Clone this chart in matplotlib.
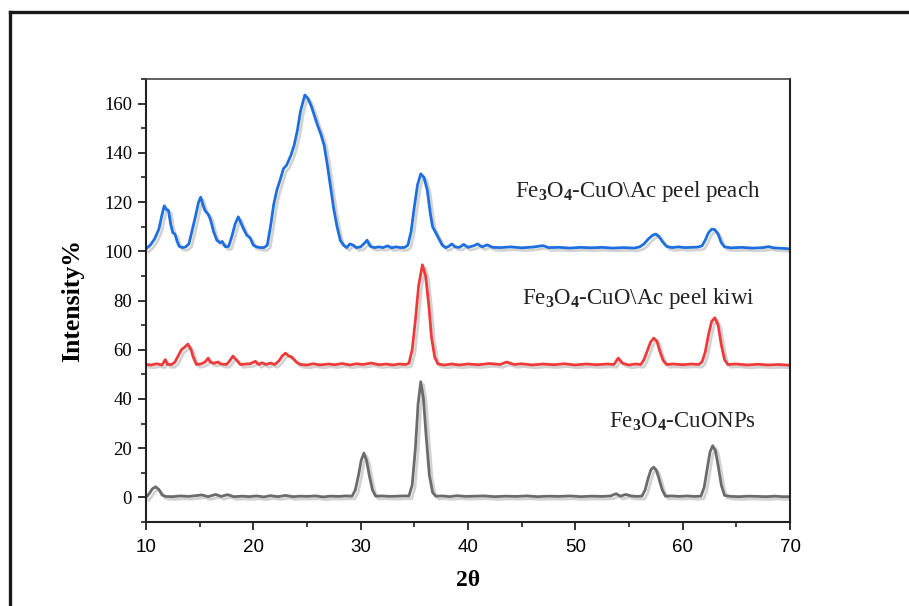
import matplotlib
matplotlib.use("Agg")
import matplotlib.pyplot as plt
import matplotlib.patheffects as pe
from matplotlib.lines import Line2D
from matplotlib.ticker import MultipleLocator

# Fe3O4-CuO\Ac peel peach (blue)
peach_x = [10.0, 10.4, 10.8, 11.2, 11.5, 11.7, 11.9, 12.1, 12.3, 12.5, 12.7, 12.9, 13.1, 13.4, 13.7,
           14.0, 14.3, 14.6, 14.9, 15.1, 15.3, 15.5, 15.8, 16.0, 16.3, 16.6, 16.9, 17.1, 17.4, 17.7,
           18.0, 18.3, 18.6, 18.9, 19.1, 19.4, 19.7, 20.0, 20.3, 20.7, 21.0, 21.3, 21.6, 21.9, 22.2,
           22.5, 22.8, 23.1, 23.5, 23.8, 24.1, 24.4, 24.8, 25.1, 25.4, 25.7, 26.0, 26.3, 26.6, 26.9,
           27.2, 27.5, 27.8, 28.1, 28.4, 28.7, 29.0, 29.3, 29.6, 30.0, 30.4, 30.6, 30.9, 31.3, 31.7,
           32.1, 32.5, 32.9, 33.3, 33.7, 34.1, 34.4, 34.7, 35.0, 35.3, 35.6, 35.9, 36.2, 36.5, 36.7,
           37.0, 37.3, 37.6, 37.9, 38.2, 38.5, 38.8, 39.2, 39.6, 40.0, 40.5, 40.9, 41.3, 41.8, 42.3,
           43.0, 44.0, 45.0, 46.0, 47.0, 47.5, 48.5, 49.5, 50.5, 51.5, 52.5, 53.5, 54.5, 55.5, 56.0,
           56.4, 56.8, 57.2, 57.5, 57.8, 58.1, 58.5, 59.0, 59.6, 60.2, 60.8, 61.4, 61.8, 62.1, 62.4,
           62.7, 63.0, 63.3, 63.6, 63.9, 64.5, 65.5, 66.5, 67.5, 68.0, 68.5, 69.3, 70.0]
peach_y = [101.0, 102.5, 105.0, 109.0, 115.0, 118.5, 117.0, 116.5, 111.0, 107.5, 107.0, 104.0, 102.0, 101.5, 101.8,
           103.0, 108.5, 114.0, 120.0, 122.0, 119.0, 116.5, 115.0, 113.0, 108.0, 104.5, 103.5, 104.0, 101.8, 102.0,
           106.0, 111.0, 114.0, 111.0, 109.0, 106.5, 105.5, 102.5, 101.8, 101.5, 101.5, 102.5, 110.0, 119.0, 125.0,
           129.0, 133.5, 135.0, 139.0, 143.0, 149.0, 157.0, 163.5, 162.0, 159.0, 155.0, 151.0, 147.5, 143.0, 135.0,
           126.0, 117.0, 110.0, 104.5, 102.5, 101.5, 103.0, 102.5, 101.5, 101.8, 103.5, 104.5, 102.0, 101.5, 101.8,
           101.5, 102.2, 101.4, 101.8, 101.5, 101.6, 102.5, 108.0, 118.0, 127.0, 131.5, 130.0, 125.0, 115.0, 110.0,
           107.5, 105.0, 102.5, 101.5, 102.0, 103.0, 101.8, 101.6, 102.8, 101.6, 102.2, 103.0, 101.8, 102.6, 101.6,
           101.5, 101.8, 101.4, 101.7, 102.3, 101.5, 101.6, 101.3, 101.6, 101.4, 101.6, 101.3, 101.5, 101.3, 101.8,
           103.0, 105.0, 106.5, 107.0, 106.0, 104.0, 102.0, 101.5, 101.8, 101.5, 101.6, 101.7, 102.2, 104.5, 107.5,
           109.0, 108.8, 107.0, 103.5, 101.8, 101.4, 101.6, 101.3, 101.5, 101.9, 101.4, 101.2, 101.0]

# Fe3O4-CuO\Ac peel kiwi (red)
kiwi_x = [10.0, 10.5, 11.0, 11.5, 11.8, 12.0, 12.4, 12.7, 13.0, 13.3, 13.6, 13.9, 14.2, 14.4, 14.7,
          15.1, 15.5, 15.8, 16.0, 16.3, 16.7, 17.0, 17.5, 17.8, 18.1, 18.4, 18.8, 19.3, 19.7, 20.2,
          20.5, 20.8, 21.2, 21.6, 22.0, 22.4, 22.7, 23.0, 23.3, 23.6, 24.0, 24.4, 25.0, 25.6, 26.2,
          27.0, 27.6, 28.3, 29.0, 29.6, 30.2, 31.0, 31.7, 32.4, 33.0, 33.6, 34.2, 34.5, 34.8, 35.1,
          35.4, 35.75, 36.05, 36.35, 36.6, 36.9, 37.2, 37.8, 38.5, 39.2, 40.0, 41.0, 42.0, 43.0, 43.6,
          44.3, 45.0, 46.0, 47.0, 48.0, 49.0, 50.0, 51.0, 52.0, 53.0, 53.6, 54.0, 54.4, 55.0, 55.6,
          56.1, 56.4, 56.7, 57.0, 57.3, 57.6, 57.9, 58.2, 58.5, 59.2, 60.0, 60.8, 61.5, 61.8, 62.1,
          62.4, 62.7, 63.0, 63.3, 63.6, 63.9, 64.2, 65.0, 66.0, 67.0, 68.0, 69.0, 70.0]
kiwi_y = [54.0, 53.8, 54.3, 53.8, 56.0, 54.0, 54.0, 55.0, 57.5, 60.0, 61.0, 62.3, 60.0, 57.0, 54.0,
          54.2, 55.0, 56.6, 55.0, 54.5, 55.0, 54.2, 54.0, 55.5, 57.4, 56.0, 54.0, 54.2, 54.3, 55.3,
          54.0, 54.7, 54.0, 54.6, 54.0, 55.5, 57.5, 58.6, 57.5, 57.0, 55.0, 54.0, 53.8, 54.3, 53.8,
          54.2, 53.9, 54.4, 53.8, 54.3, 54.0, 54.6, 53.9, 54.2, 53.8, 54.2, 54.0, 54.5, 60.0, 72.0,
          86.0, 94.5, 90.0, 78.0, 65.0, 57.0, 54.2, 53.8, 54.2, 53.8, 54.2, 53.9, 54.4, 54.0, 55.0,
          54.0, 54.3, 53.8, 54.2, 53.9, 54.3, 53.8, 54.2, 53.9, 54.2, 54.0, 56.6, 54.5, 53.8, 54.2,
          54.0, 56.0, 59.5, 63.0, 64.7, 63.5, 59.0, 55.5, 54.0, 54.2, 53.9, 54.2, 54.0, 55.0, 59.0,
          66.0, 71.5, 73.0, 70.0, 62.0, 56.0, 54.0, 54.2, 53.8, 54.1, 53.8, 54.0, 53.7]

# Fe3O4-CuONPs (gray)
nps_x = [10.0, 10.3, 10.6, 10.9, 11.2, 11.5, 11.8, 12.5, 13.2, 14.0, 14.6, 15.2, 15.8, 16.5, 17.0,
         17.6, 18.2, 19.0, 19.6, 20.3, 21.0, 21.6, 22.3, 23.0, 23.7, 24.4, 25.0, 25.8, 26.5, 27.2,
         28.0, 28.6, 29.2, 29.5, 29.8, 30.05, 30.3, 30.55, 30.8, 31.1, 31.4, 32.0, 32.7, 33.4, 34.0,
         34.5, 34.8, 35.1, 35.35, 35.6, 35.85, 36.1, 36.4, 36.7, 37.0, 37.6, 38.3, 39.0, 39.8, 40.6,
         41.5, 42.5, 43.5, 44.5, 45.5, 46.5, 47.5, 48.5, 49.5, 50.5, 51.5, 52.5, 53.3, 53.8, 54.2,
         54.7, 55.2, 55.7, 56.2, 56.5, 56.8, 57.05, 57.3, 57.55, 57.8, 58.1, 58.4, 59.0, 59.7, 60.4,
         61.1, 61.7, 62.0, 62.3, 62.55, 62.8, 63.05, 63.3, 63.6, 63.9, 64.5, 65.3, 66.1, 67.0, 67.8,
         68.6, 69.3, 70.0]
nps_y = [0.0, 1.5, 3.5, 4.3, 3.2, 1.0, 0.4, 0.3, 0.6, 0.4, 0.7, 1.0, 0.3, 1.2, 0.4,
         1.1, 0.3, 0.5, 0.3, 0.6, 0.2, 0.7, 0.3, 0.8, 0.3, 0.5, 0.4, 0.6, 0.2, 0.5,
         0.4, 0.6, 0.5, 3.0, 9.0, 15.0, 18.0, 15.0, 9.0, 3.0, 0.5, 0.6, 0.4, 0.5, 0.6,
         0.6, 5.0, 20.0, 38.0, 47.0, 40.0, 25.0, 9.0, 2.0, 0.5, 0.6, 0.3, 0.7, 0.4, 0.5,
         0.6, 0.3, 0.5, 0.4, 0.6, 0.3, 0.5, 0.4, 0.6, 0.3, 0.5, 0.4, 0.6, 1.5, 0.5,
         1.2, 0.6, 0.4, 0.5, 3.0, 8.0, 11.3, 12.3, 11.0, 7.5, 3.0, 0.5, 0.6, 0.4, 0.6,
         0.4, 0.5, 4.0, 12.0, 18.5, 21.0, 19.0, 13.0, 5.0, 0.8, 0.4, 0.3, 0.5, 0.4, 0.3,
         0.5, 0.3, 0.3]

series = [
    (nps_x, nps_y, "#6b6b6b"),
    (kiwi_x, kiwi_y, "#f03a3a"),
    (peach_x, peach_y, "#1d6fdf"),
]

labels = [
    (44.4, 124.2, r"Fe$_\mathbf{3}$O$_\mathbf{4}$-CuO\Ac peel peach"),
    (45.0, 81.0, r"Fe$_\mathbf{3}$O$_\mathbf{4}$-CuO\Ac peel kiwi"),
    (53.1, 30.5, r"Fe$_\mathbf{3}$O$_\mathbf{4}$-CuONPs"),
]

SERIF = "Liberation Serif"
plt.rcParams["mathtext.fontset"] = "custom"
plt.rcParams["mathtext.rm"] = SERIF
plt.rcParams["mathtext.it"] = SERIF + ":italic"
plt.rcParams["mathtext.bf"] = SERIF + ":bold"

fig = plt.figure(figsize=(9.09, 6.06), dpi=100)
ax = fig.add_axes([0.1606, 0.1386, 0.7085, 0.731])

line_shadow = [pe.SimpleLineShadow(offset=(2, -2), shadow_color="0.5", alpha=0.35), pe.Normal()]

for xs, ys, color in series:
    ax.plot(xs, ys, color=color, lw=2.0, path_effects=line_shadow)

for x, y, txt in labels:
    ax.text(x, y, txt, fontsize=16.5, family=SERIF, color="#222222", va="center", ha="left")

ax.set_xlim(10, 70)
ax.set_ylim(-10, 170)
ax.xaxis.set_major_locator(MultipleLocator(10))
ax.xaxis.set_minor_locator(MultipleLocator(5))
ax.yaxis.set_major_locator(MultipleLocator(20))
ax.yaxis.set_minor_locator(MultipleLocator(10))

ax.tick_params(which="major", direction="out", length=6, width=1.3, color="#222222")
ax.tick_params(which="minor", direction="out", length=3.5, width=1.2, color="#222222")
ax.tick_params(axis="x", pad=6, labelsize=13.5)
ax.tick_params(axis="y", pad=4, labelsize=13.5)
for lab in ax.get_xticklabels():
    lab.set_family("Liberation Sans")
for lab in ax.get_yticklabels():
    lab.set_family(SERIF)

for side in ["left", "bottom", "right"]:
    ax.spines[side].set_linewidth(1.5)
    ax.spines[side].set_color("#222222")
ax.spines["top"].set_linewidth(1.2)
ax.spines["top"].set_color("#444444")

ax.set_ylabel("Intensity%", family=SERIF, fontweight="bold", fontsize=18.5, labelpad=14)
ax.set_xlabel("2θ", family=SERIF, fontweight="bold", fontsize=17, labelpad=10)

# outer document frame (top and left edges)
fig.add_artist(Line2D([0.011, 1.0], [0.980, 0.980], transform=fig.transFigure,
                      color="#1a1a1a", lw=2.4))
fig.add_artist(Line2D([0.011, 0.011], [0.0, 0.980], transform=fig.transFigure,
                      color="#1a1a1a", lw=2.4))

fig.savefig("out.png", dpi=100)
